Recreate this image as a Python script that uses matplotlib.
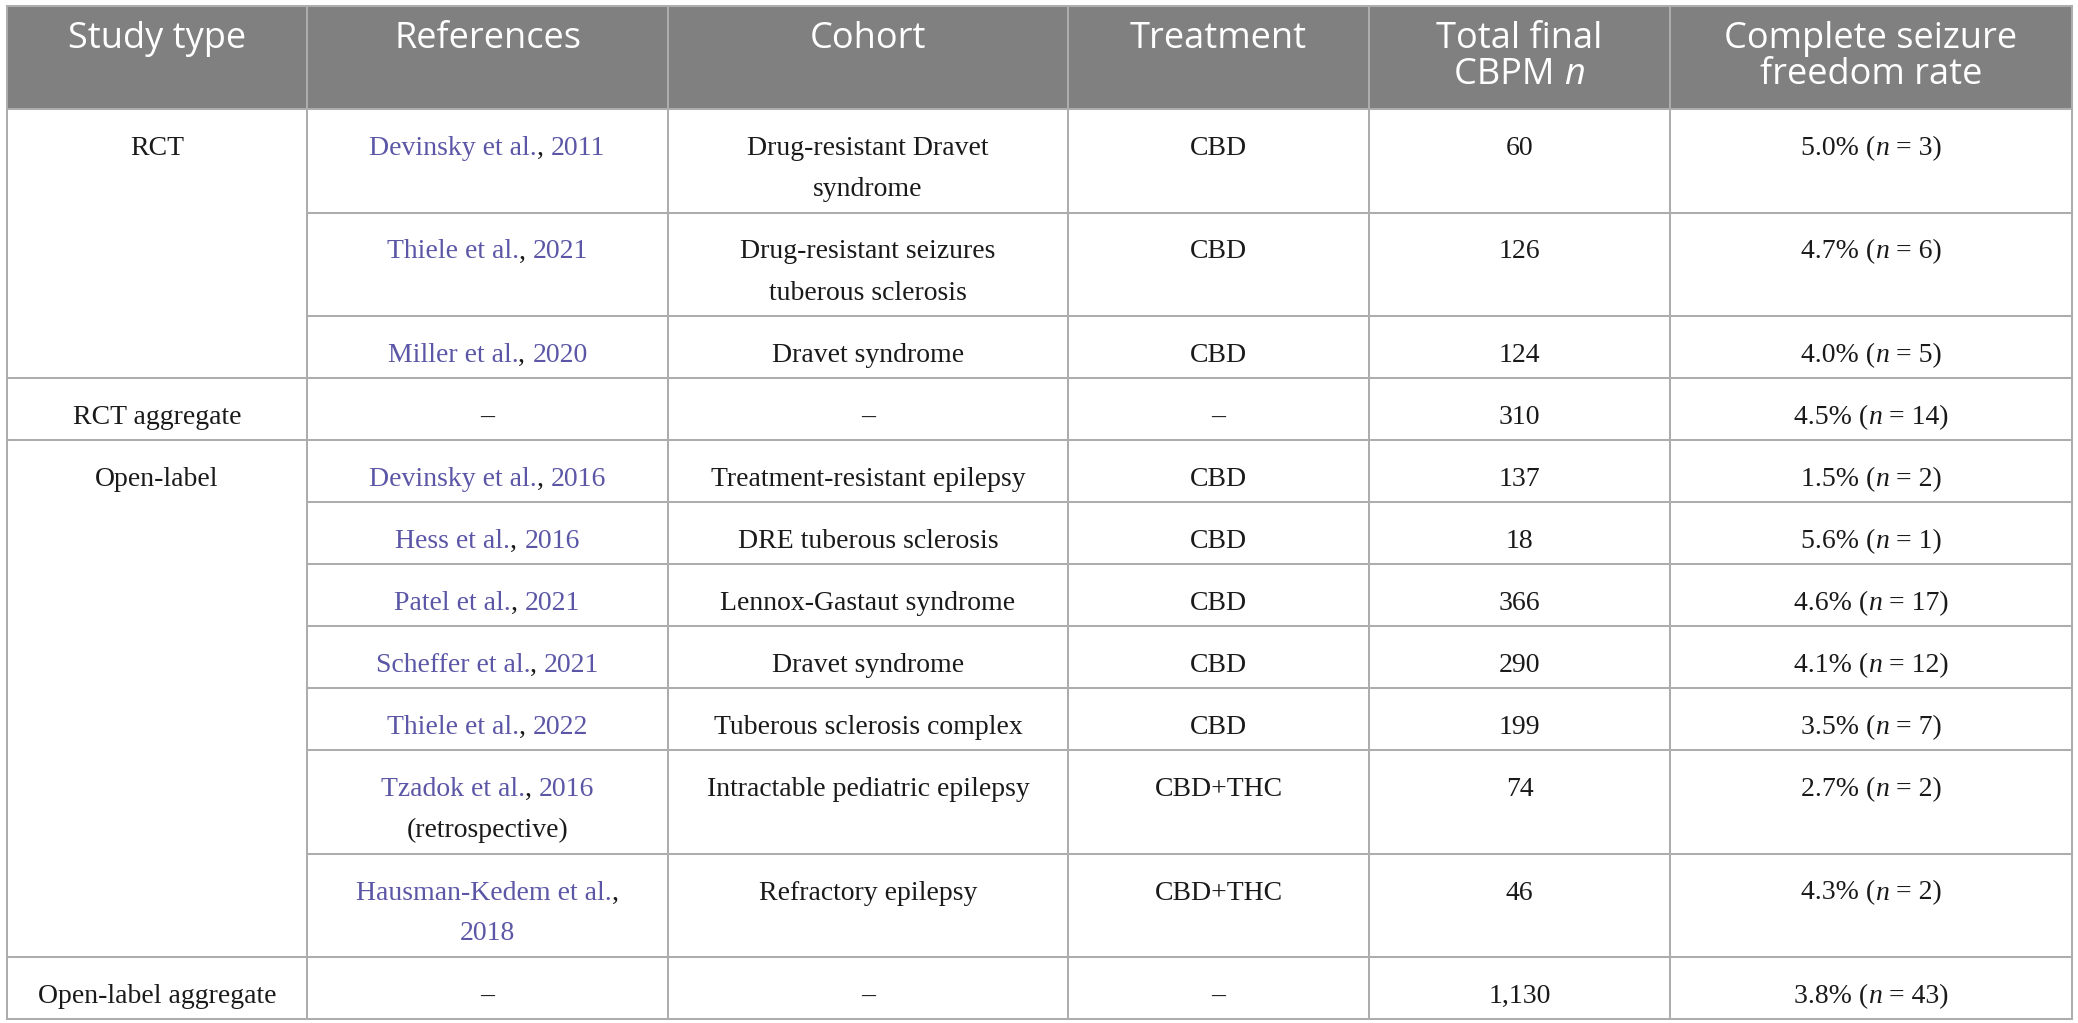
import matplotlib
matplotlib.use("Agg")
import matplotlib.pyplot as plt

# table contents
headers = ["Study type", "References", "Cohort", "Treatment",
           "Total final\nCBPM *n*", "Complete seizure\nfreedom rate"]

study_groups = ["RCT", "RCT aggregate", "Open-label", "Open-label aggregate"]
group_rows = [3, 1, 7, 1]

ref_author = ["Devinsky et al.", "Thiele et al.", "Miller et al.", "",
              "Devinsky et al.", "Hess et al.", "Patel et al.", "Scheffer et al.",
              "Thiele et al.", "Tzadok et al.", "Hausman-Kedem et al.", ""]
ref_year = ["2011", "2021", "2020", "", "2016", "2016", "2021", "2021",
            "2022", "2016", "2018", ""]
ref_note = ["", "", "", "", "", "", "", "", "", "(retrospective)", "", ""]
ref_wrap = [False] * 10 + [True, False]

cohort = ["Drug-resistant Dravet\nsyndrome", "Drug-resistant seizures\ntuberous sclerosis",
          "Dravet syndrome", "\u2013", "Treatment-resistant epilepsy",
          "DRE tuberous sclerosis", "Lennox-Gastaut syndrome", "Dravet syndrome",
          "Tuberous sclerosis complex", "Intractable pediatric epilepsy",
          "Refractory epilepsy", "\u2013"]
treatment = ["CBD", "CBD", "CBD", "\u2013", "CBD", "CBD", "CBD", "CBD", "CBD",
             "CBD+THC", "CBD+THC", "\u2013"]
total_n = ["60", "126", "124", "310", "137", "18", "366", "290", "199", "74", "46", "1,130"]
free_rate = [5.0, 4.7, 4.0, 4.5, 1.5, 5.6, 4.6, 4.1, 3.5, 2.7, 4.3, 3.8]
free_n = [3, 6, 5, 14, 2, 1, 17, 12, 7, 2, 2, 43]

# style
W, H = 2078, 1023
col_edges = [7, 307, 668, 1068, 1369, 1670, 2072]
top = 6
header_h = 103
h1, h2 = 62, 103.5
grid = "#adadad"
head_bg = "#808080"
link = "#5b57a6"
ink = "#1a1a1a"
body_font = "Liberation Serif"
head_font = "Open Sans"
body_size = 20
head_size = 26

fig = plt.figure(figsize=(W / 100, H / 100), dpi=100)
ax = fig.add_axes([0, 0, 1, 1])
ax.set_xlim(0, W)
ax.set_ylim(H, 0)
ax.axis("off")
renderer = fig.canvas.get_renderer()


def width_of(s, size, family, style):
    t = ax.text(0, 0, "|" + s + "|", fontsize=size, family=family, style=style)
    w = t.get_window_extent(renderer).width
    t.remove()
    t = ax.text(0, 0, "||", fontsize=size, family=family, style=style)
    w -= t.get_window_extent(renderer).width
    t.remove()
    return w


def draw_line(xc, y, pieces, size, family):
    widths = [width_of(p[0], size, family, p[2]) for p in pieces]
    x = xc - sum(widths) / 2
    for (s, c, st), w in zip(pieces, widths):
        ax.text(x, y, s, fontsize=size, family=family, style=st, color=c,
                ha="left", va="baseline")
        x += w


def parse(line, color):
    # *x* marks italic
    parts = line.split("*")
    return [(p, color, "italic" if i % 2 else "normal") for i, p in enumerate(parts) if p]


def draw_cell(ci, row_top, lines, size=body_size, family=body_font, first=46, pitch=41):
    xc = (col_edges[ci] + col_edges[ci + 1]) / 2
    for k, pieces in enumerate(lines):
        draw_line(xc, row_top + first + k * pitch, pieces, size, family)


# rows
n_rows = len(cohort)
ref_lines = []
for i in range(n_rows):
    if not ref_author[i]:
        ref_lines.append([[("\u2013", ink, "normal")]])
    elif ref_wrap[i]:
        ref_lines.append([[(ref_author[i], link, "normal"), (",", ink, "normal")],
                          [(ref_year[i], link, "normal")]])
    else:
        ln = [[(ref_author[i], link, "normal"), (", ", ink, "normal"),
               (ref_year[i], link, "normal")]]
        if ref_note[i]:
            ln.append([(ref_note[i], ink, "normal")])
        ref_lines.append(ln)

row_lines = []
for i in range(n_rows):
    row_lines.append([
        ref_lines[i],
        [parse(s, ink) for s in cohort[i].split("\n")],
        [parse(treatment[i], ink)],
        [parse(total_n[i], ink)],
        [parse("%.1f%% (*n* = %d)" % (free_rate[i], free_n[i]), ink)],
    ])

row_h = [h2 if max(len(c) for c in r) > 1 else h1 for r in row_lines]
row_top = [top + header_h]
for h in row_h:
    row_top.append(row_top[-1] + h)
bottom = row_top[-1]

# header
ax.fill_between([col_edges[0], col_edges[-1]], top, top + header_h, color=head_bg, lw=0)
for ci, htxt in enumerate(headers):
    draw_cell(ci, top, [parse(s, "white") for s in htxt.split("\n")],
              size=head_size, family=head_font, first=42, pitch=36)

# body cells
for i in range(n_rows):
    for cj, lines in enumerate(row_lines[i]):
        draw_cell(cj + 1, row_top[i], lines)

# study type spans
start = 0
group_start = []
for g, n in zip(study_groups, group_rows):
    draw_cell(0, row_top[start], [[(g, ink, "normal")]])
    group_start.append(start)
    start += n

# grid lines
lw = 1.45
for x in col_edges:
    ax.plot([x, x], [top, bottom], color=grid, lw=lw, solid_capstyle="butt")
ax.plot([col_edges[0], col_edges[-1]], [top, top], color=grid, lw=lw)
ax.plot([col_edges[0], col_edges[-1]], [top + header_h, top + header_h], color=grid, lw=lw)
for i in range(1, n_rows + 1):
    x0 = col_edges[0] if i in group_start or i == n_rows else col_edges[1]
    ax.plot([x0, col_edges[-1]], [row_top[i], row_top[i]], color=grid, lw=lw)

fig.savefig("out.png", dpi=100)
